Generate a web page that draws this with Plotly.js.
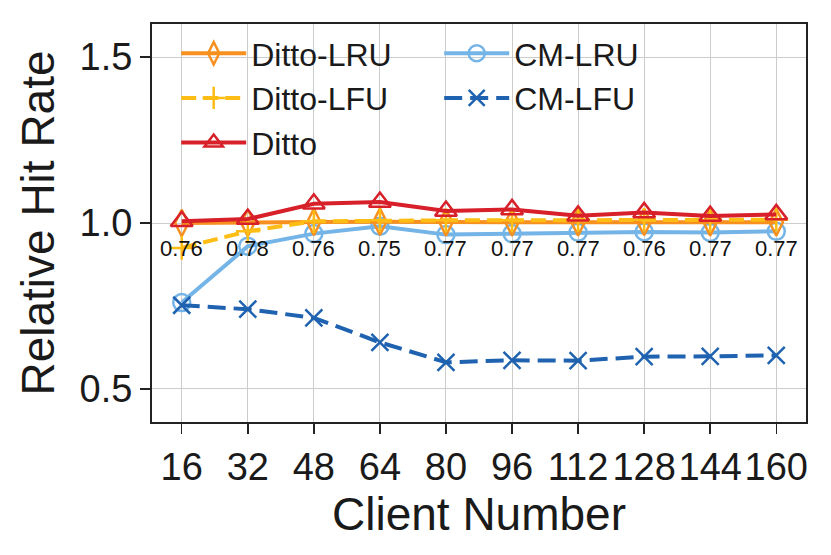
<!DOCTYPE html>
<html>
<head>
<meta charset="utf-8">
<script src="https://cdn.plot.ly/plotly-3.0.1.min.js"></script>
<style>
  html, body { margin: 0; padding: 0; background: #fff; }
  #chart { width: 831px; height: 555px; }
</style>
</head>
<body>
<div id="chart"></div>
<script>
// client counts on the x axis
const clients = [16, 32, 48, 64, 80, 96, 112, 128, 144, 160];

// relative hit rate per method
const dittoLru = [1.0, 1.0, 1.003, 1.004, 1.002, 1.002, 1.002, 1.003, 1.002, 1.002];
const dittoLfu = [0.925, 0.975, 1.005, 1.008, 1.008, 1.008, 1.009, 1.01, 1.008, 1.01];
const ditto = [1.005, 1.012, 1.058, 1.063, 1.036, 1.041, 1.022, 1.032, 1.021, 1.026];
const cmLru = [0.76, 0.93, 0.968, 0.99, 0.965, 0.968, 0.972, 0.973, 0.971, 0.975];
const cmLfu = [0.752, 0.74, 0.714, 0.64, 0.58, 0.586, 0.585, 0.597, 0.598, 0.601];

// small labels printed under the curves
const noteLabels = ['0.76', '0.78', '0.76', '0.75', '0.77', '0.77', '0.77', '0.76', '0.77', '0.77'];
const noteY = 0.924;

const FONT = 'Liberation Sans, Arial, sans-serif';

function series(name, y, color, symbol, dash, rank, size) {
    return {
        x: clients,
        y: y,
        name: name,
        mode: 'lines+markers',
        line: { color: color, width: 4, dash: dash },
        marker: { symbol: symbol, size: size, color: color, line: { color: color, width: 2.5 } },
        legendrank: rank
    };
}

const data = [
    series('CM-LRU', cmLru, '#74b4e6', 'circle-open', 'solid', 2, 17),
    series('CM-LFU', cmLfu, '#1f62b0', 'x-thin-open', '18px,8px', 4, 17),
    series('Ditto-LRU', dittoLru, '#f7901e', 'diamond-tall-open', 'solid', 1, 19),
    series('Ditto-LFU', dittoLfu, '#fdbd14', 'cross-thin-open', '15px,7px', 3, 17),
    series('Ditto', ditto, '#d7202a', 'triangle-up-open', 'solid', 5, 19)
];

const annotations = noteLabels.map((t, i) => ({
    x: clients[i],
    y: noteY,
    xref: 'x',
    yref: 'y',
    text: t,
    showarrow: false,
    font: { family: FONT, size: 22, color: '#111' },
    yanchor: 'middle'
}));

const layout = {
    width: 831,
    height: 555,
    margin: { l: 152, r: 25, t: 24, b: 133 },
    paper_bgcolor: '#fff',
    plot_bgcolor: '#fff',
    font: { family: FONT, color: '#1a1a1a' },
    showlegend: true,
    legend: {
        orientation: 'h',
        x: 0.037,
        xanchor: 'left',
        y: 0.995,
        yanchor: 'top',
        bgcolor: 'rgba(0,0,0,0)',
        font: { family: FONT, size: 32, color: '#1a1a1a' },
        itemwidth: 65,
        entrywidth: 183,
        entrywidthmode: 'pixels',
        traceorder: 'normal'
    },
    xaxis: {
        range: [8.8, 167.2],
        tickvals: clients,
        ticktext: clients.map(String),
        tickfont: { family: FONT, size: 38, color: '#1a1a1a' },
        ticks: 'outside',
        ticklen: 10,
        tickwidth: 1.5,
        tickcolor: '#222',
        showgrid: true,
        gridcolor: '#cccccc',
        gridwidth: 1,
        showline: true,
        linecolor: '#222',
        linewidth: 2,
        mirror: true,
        zeroline: false,
        title: { text: 'Client Number', font: { family: FONT, size: 46, color: '#1a1a1a' }, standoff: 5 }
    },
    yaxis: {
        range: [0.4, 1.6],
        tickvals: [0.5, 1.0, 1.5],
        ticktext: ['0.5', '1.0', '1.5'],
        tickfont: { family: FONT, size: 38, color: '#1a1a1a' },
        ticks: 'outside',
        ticklen: 10,
        tickwidth: 1.5,
        tickcolor: '#222',
        showgrid: true,
        gridcolor: '#cccccc',
        gridwidth: 1,
        showline: true,
        linecolor: '#222',
        linewidth: 2,
        mirror: true,
        zeroline: false,
        title: { text: 'Relative Hit Rate', font: { family: FONT, size: 46, color: '#1a1a1a' }, standoff: 10 }
    },
    annotations: annotations
};

Plotly.newPlot('chart', data, layout, { displayModeBar: false, staticPlot: true });
</script>
</body>
</html>
